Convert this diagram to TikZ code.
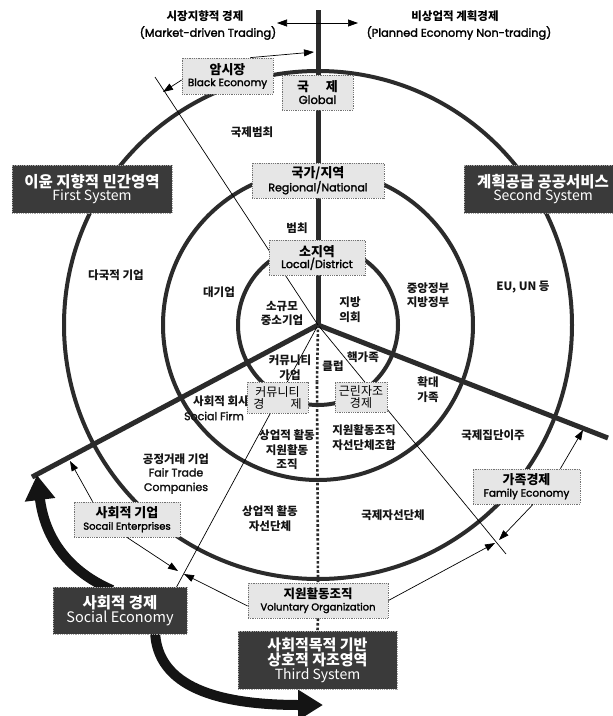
\documentclass[tikz,border=0pt]{standalone}
\usepackage{fontspec}
\setmainfont{Noto Sans CJK KR}
\newfontfamily\kr{Noto Sans CJK KR}
\newfontfamily\en{Poppins}[FakeBold=2]
\usetikzlibrary{arrows.meta}
\definecolor{ink}{HTML}{2B2B2B}
\definecolor{darkbox}{HTML}{3A3A3A}
\definecolor{lightbox}{HTML}{E6E6E6}
\begin{document}
\begin{tikzpicture}[x=1pt,y=-1pt,
  ring/.style={draw=ink, line width=4pt},
  spoke/.style={draw=ink, line width=5pt},
  dotline/.style={draw=ink, line width=2.6pt, dash pattern=on 2.6pt off 2pt},
  radial/.style={draw=black, line width=0.7pt},
  tarrow/.style={draw=black, line width=0.7pt, -{Triangle[length=10pt,width=7pt]}},
  bigarrow/.style={draw=black!92, line width=10pt, -{Triangle[length=25pt,width=29pt]}},
  lbox/.style={draw=black!55, densely dotted, line width=0.8pt, fill=lightbox, inner sep=0pt, align=center, text=black},
  dbox/.style={draw=black!35, densely dotted, line width=0.8pt, fill=darkbox, inner sep=0pt, align=center, text=white},
  lbl/.style={font=\kr\bfseries\fontsize{11.5}{14.5}\selectfont, align=center, inner sep=0pt, text=black!92},
  elbl/.style={font=\en\fontsize{11}{14.5}\selectfont, align=center, inner sep=0pt, text=black!92},
]
\useasboundingbox (0,0) rectangle (613,716);
\clip (0,0) rectangle (613,716);
\fill[white] (0,0) rectangle (613,716);

% centre and circles
\coordinate (C) at (318,325);
\draw[ring] (C) circle[radius=80pt];
\draw[ring] (C) circle[radius=155pt];
\draw[ring] (C) circle[radius=254pt];

% spokes
\coordinate (Ntop) at (318,10);
\coordinate (Lend) at (32,477);
\coordinate (Rend) at (608,438);
\draw[spoke] (Lend) -- (C) -- (Rend);
\draw[spoke] (C) -- (Ntop);

% thin radial lines
\coordinate (T1) at (155,77);
\coordinate (T2) at (176,588);
\coordinate (T3) at (506,554);
\draw[radial] (C) -- (T1);
\draw[radial] (C) -- (T2);
\draw[radial] (C) -- (T3);

% big curved arrows (behind the social economy box)
\coordinate (bu0) at (112,590);
\coordinate (buT) at (37,475);
\coordinate (bl0) at (155,630);
\coordinate (blT) at (323,705);
\draw[bigarrow] (bu0) .. controls (70,572) and (45,540) .. (buT);
\draw[bigarrow] (bl0) .. controls (156,688) and (220,705) .. (blT);

% top texts
\node[font=\kr\bfseries\fontsize{11.5}{14}\selectfont, inner sep=0pt] (tl1) at (205,16) {시장지향적 경제};
\node[font=\en\fontsize{11.3}{14}\selectfont, inner sep=0pt] (tl2) at (208,33) {(Market-driven Trading)};
\node[font=\kr\bfseries\fontsize{11.5}{14}\selectfont, inner sep=0pt] (tr1) at (455,16) {비상업적 계획경제};
\node[font=\en\fontsize{11.3}{14}\selectfont, inner sep=0pt] (tr2) at (459,33) {(Planned Economy Non-trading)};
\coordinate (ax) at (318,23);
\coordinate (aL) at (277,23);
\coordinate (aR) at (358,23);
\draw[tarrow] (ax) -- (aL);
\draw[tarrow] (ax) -- (aR);

% region labels
\node[lbl] (l1) at (252,132) {국제범최};
\node[lbl] (l2) at (297,228) {범최};
\node[lbl] (l3) at (116,275) {다국적 기업};
\node[lbl] (l4) at (219,292) {대기업};
\node[lbl] (l5) at (282,313.5) {소규모\\중소기업};
\node[lbl] (l6) at (350,309.5) {지방\\의회};
\node[lbl] (l7) at (428,295) {중앙정부\\지방정부};
\node[lbl] (l8) at (523,287) {EU, UN 등};
\node[lbl] (l9) at (290,367.5) {커뮤니티\\가업};
\node[lbl] (l10) at (333,366) {클럽};
\node[lbl] (l11) at (363,357) {핵가족};
\node[lbl] (l12) at (428,389.5) {확대\\가족};
\node[lbl] (l13) at (221,401) {사회적 회사};
\node[elbl] (l14) at (214,416) {Social Firm};
\node[lbl] (l15) at (176,459) {공정거래 기업};
\node[elbl] (l16) at (176,481) {Fair Trade\\Companies};
\node[lbl] (l17) at (287,450) {상업적 활동\\지원활동\\조직};
\node[lbl] (l18) at (364,437.5) {지원활동조직\\자선단체조합};
\node[lbl] (l19) at (493,435) {국제집단이주};
\node[lbl] (l20) at (270,518.5) {상업적 활동\\자선단체};
\node[lbl] (l21) at (393,515) {국제자선단체};

% light boxes
\node[lbox, minimum width=91pt, minimum height=36pt] (be) at (227.5,76)
  {{\kr\bfseries\fontsize{13}{15}\selectfont 암시장}\\{\en\fontsize{10.5}{13}\selectfont Black Economy}};
\node[lbox, minimum width=71pt, minimum height=35pt] (gl) at (317.5,92.5)
  {{\kr\bfseries\fontsize{13}{15}\selectfont 국\hspace{1.3em}제}\\{\en\fontsize{11.5}{13}\selectfont Global}};
\node[lbox, minimum width=132pt, minimum height=35pt] (rn) at (318,180.5)
  {{\kr\bfseries\fontsize{13}{15}\selectfont 국가/지역}\\{\en\fontsize{11}{13}\selectfont Regional/National}};
\node[lbox, minimum width=96pt, minimum height=35pt] (ld) at (317,257.5)
  {{\kr\bfseries\fontsize{13}{15}\selectfont 소지역}\\{\en\fontsize{11}{13}\selectfont Local/District}};
\node[lbox, minimum width=61pt, minimum height=31pt] (ce) at (277.5,397.5)
  {{\kr\fontsize{12}{14}\selectfont 커뮤니티}\\{\kr\fontsize{12}{14}\selectfont 경\hspace{2.2em}제}};
\node[lbox, minimum width=52pt, minimum height=30pt] (ns) at (361,397)
  {{\kr\fontsize{12}{14}\selectfont 근린자조}\\{\kr\fontsize{12}{14}\selectfont 경제}};
\node[lbox, minimum width=106pt, minimum height=35pt] (se) at (127,519.5)
  {{\kr\bfseries\fontsize{13}{15}\selectfont 사회적 기업}\\{\en\fontsize{10}{13}\selectfont Socail Enterprises}};
\node[lbox, minimum width=140pt, minimum height=35pt] (vo) at (318,600.5)
  {{\kr\bfseries\fontsize{12.5}{15}\selectfont 지원활동조직}\\{\en\fontsize{10}{13}\selectfont Voluntary Organization}};
\node[lbox, minimum width=107pt, minimum height=35pt] (fe) at (526.5,486.5)
  {{\kr\bfseries\fontsize{13}{15}\selectfont 가족경제}\\{\en\fontsize{10.5}{13}\selectfont Family Economy}};

% dark boxes
\node[dbox, minimum width=160pt, minimum height=48pt] (fs) at (92,189)
  {{\kr\bfseries\fontsize{15.5}{19}\selectfont 이윤 지향적 민간영역}\\{\kr\fontsize{14}{17}\selectfont First System}};
\node[dbox, minimum width=158pt, minimum height=48pt] (ss) at (543,189)
  {{\kr\bfseries\fontsize{15.5}{19}\selectfont 계획공급 공공서비스}\\{\kr\fontsize{14}{17}\selectfont Second System}};
\node[dbox, minimum width=134pt, minimum height=47pt] (sec) at (120,610.5)
  {{\kr\bfseries\fontsize{15.5}{19}\selectfont 사회적 경제}\\{\kr\fontsize{14.5}{17}\selectfont Social Economy}};
\node[dbox, minimum width=159pt, minimum height=58pt] (ts) at (317.5,660)
  {{\kr\bfseries\fontsize{15}{18}\selectfont 사회적목적 기반}\\{\kr\bfseries\fontsize{15}{18}\selectfont 상호적 자조영역}\\{\kr\fontsize{14}{17}\selectfont Third System}};

% dotted spoke down to the third system
\draw[dotline] (C) -- (ld.south |- ce.north);
\draw[dotline] (ld.south |- ce.north) -- (vo.north);
\draw[dotline] (vo.south) -- (ts.north);

% thin arrows from boxes
\coordinate (bA) at (314,52);
\coordinate (bB) at (163,92);
\coordinate (sA) at (70,461);
\coordinate (sB) at (178,571);
\coordinate (vA) at (184,574);
\coordinate (vB) at (495,543);
\coordinate (fA) at (583,430);
\coordinate (fB) at (499,540);
\draw[tarrow] ([xshift=-23pt]be.north east) -- (bA);
\draw[tarrow] ([yshift=-4pt]be.west) -- (bB);
\draw[tarrow] ([xshift=19pt]se.north west) -- (sA);
\draw[tarrow] (se.south) -- (sB);
\draw[tarrow] ([yshift=-5.5pt]vo.west) -- (vA);
\draw[tarrow] (vo.east) -- (vB);
\draw[tarrow] ([xshift=-20pt]fe.north east) -- (fA);
\draw[tarrow] ([xshift=6.5pt]fe.south) -- (fB);
\end{tikzpicture}
\end{document}
